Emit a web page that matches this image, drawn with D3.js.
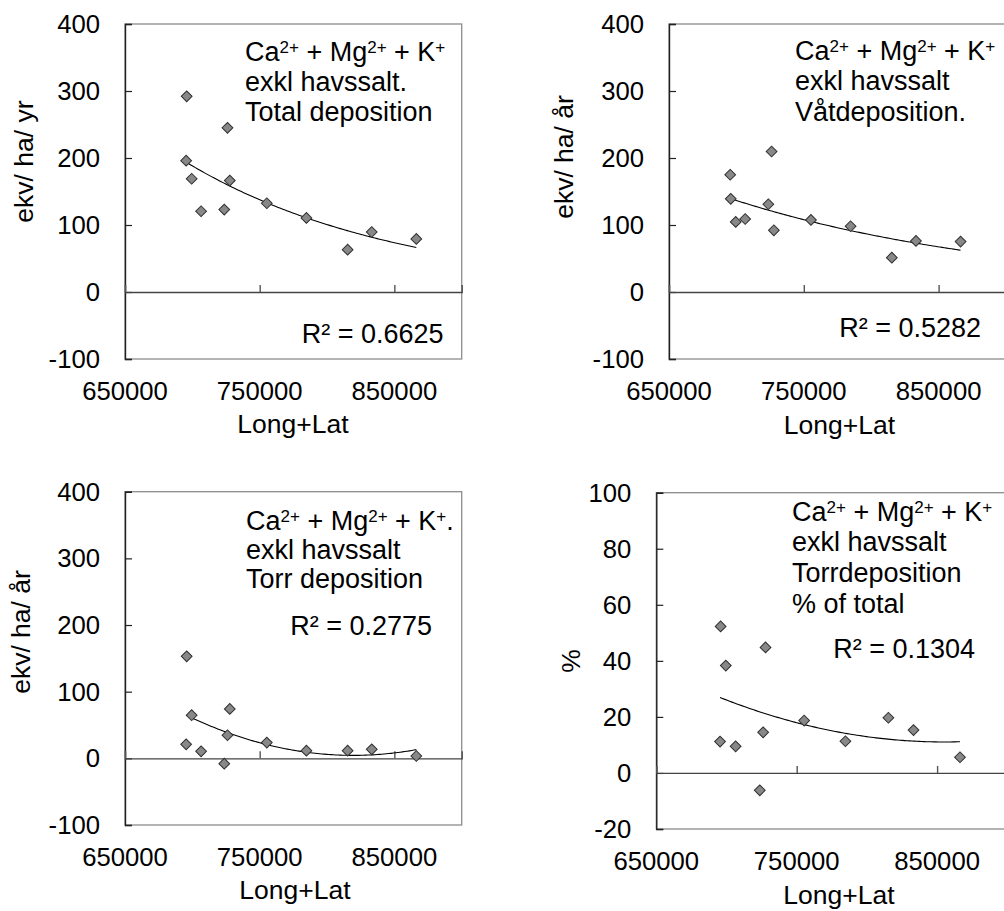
<!DOCTYPE html>
<html>
<head>
<meta charset="utf-8">
<script src="https://cdn.jsdelivr.net/npm/d3@7"></script>
<style>
  body { margin: 0; background: #fff; }
  svg { display: block; }
  text { font-family: "Liberation Sans", Arial, sans-serif; fill: #000; }
</style>
</head>
<body>
<svg id="chart" width="1004" height="911"></svg>
<script>
// Station position (longitude + latitude) and base-cation deposition (ekv/ha/år)
const longLat  = [695800, 695400, 699500, 706500, 723700, 726100, 727800, 755300, 784700, 815300, 833200, 866300];
const totalDep = [292, 196, 169, 120.5, 123, 245, 166.3, 132.5, 110.6, 63.2, 89.6, 79.2];
const wetDep   = [139, 175, 104.6, 109, 131, 209.7, 92.1, 107.6, 98.1, 51.3, 76.2, 75.2];
const dryDep   = [153, 21, 64.7, 10.5, -8, 34.6, 74.2, 23.6, 11.5, 11.5, 13.5, 3.5];
const dryPct   = [52.3, 11.2, 38.3, 9.5, -6.2, 14.5, 44.8, 18.7, 11.3, 19.7, 15.3, 5.6];

const xTicks   = [650000, 750000, 850000];
const depTicks = [-100, 0, 100, 200, 300, 400];
const pctTicks = [-20, 0, 20, 40, 60, 80, 100];

const yTitles  = ["ekv/ ha/ yr", "ekv/ ha/ år", "ekv/ ha/ år", "%"];
const r2Labels = ["R² = 0.6625", "R² = 0.5282", "R² = 0.2775", "R² = 0.1304"];
const trendTypes = ["exp", "exp", "poly2", "poly2"];

// First annotation line: ion formula with superscript charges
const ionLine = [["Ca"], ["2+", true], [" + Mg"], ["2+", true], [" + K"], ["+", true]];
const ionLineDot = ionLine.concat([["."]]);
const noteLines = [
  [ionLine, "exkl havssalt.", "Total deposition"],
  [ionLine, "exkl havssalt", "Våtdeposition."],
  [ionLineDot, "exkl havssalt", "Torr deposition"],
  [ionLine, "exkl havssalt", "Torrdeposition", "% of total"]
];

const seriesList = [totalDep, wetDep, dryDep, dryPct];
const yDomains = [[-100, 400], [-100, 400], [-100, 400], [-20, 100]];
const yTickSets = [depTicks, depTicks, depTicks, pctTicks];

// Panel geometry
const panels = [
  { left: 125,   top: 24,    width: 336.7, height: 335,
    yTitle: [33, 161.5], xTitle: [293, 433], note: [245, 60.5, 30], r2: [443.5, 342.5] },
  { left: 669,   top: 24,    width: 337,   height: 335,
    yTitle: [573, 157], xTitle: [839.5, 434], note: [795, 59.5, 30.5], r2: [981, 336.5] },
  { left: 125,   top: 491.7, width: 336.7, height: 333.3,
    yTitle: [29.5, 632], xTitle: [295, 899], note: [246, 530, 29], r2: [432, 635] },
  { left: 656.3, top: 492.7, width: 351,   height: 336.3,
    yTitle: [580, 661], xTitle: [839, 904], note: [792, 520.5, 30.7], r2: [975, 658] }
];

// Least-squares second-order polynomial trend
function quadFit(xs, ys) {
  const x0 = d3.mean(xs), s = 100000;
  const t = xs.map(x => (x - x0) / s);
  const S = [0, 0, 0, 0, 0], T = [0, 0, 0];
  t.forEach((ti, i) => {
    let p = 1;
    for (let k = 0; k < 5; k++) { S[k] += p; p *= ti; }
    T[0] += ys[i]; T[1] += ys[i] * ti; T[2] += ys[i] * ti * ti;
  });
  const A = [[S[0], S[1], S[2]], [S[1], S[2], S[3]], [S[2], S[3], S[4]]];
  const det = m => m[0][0] * (m[1][1] * m[2][2] - m[1][2] * m[2][1])
                 - m[0][1] * (m[1][0] * m[2][2] - m[1][2] * m[2][0])
                 + m[0][2] * (m[1][0] * m[2][1] - m[1][1] * m[2][0]);
  const D = det(A);
  const c = [0, 1, 2].map(j => det(A.map((row, r) => row.map((v, k) => (k === j ? T[r] : v)))) / D);
  return x => { const u = (x - x0) / s; return c[0] + c[1] * u + c[2] * u * u; };
}

// Exponential trend: linear regression of ln(y) on x
function expFit(xs, ys) {
  const ly = ys.map(Math.log);
  const mx = d3.mean(xs), my = d3.mean(ly);
  let sxy = 0, sxx = 0;
  xs.forEach((x, i) => { sxy += (x - mx) * (ly[i] - my); sxx += (x - mx) * (x - mx); });
  const b = sxy / sxx, a = my - b * mx;
  return x => Math.exp(a + b * x);
}

const svg = d3.select("#chart");
const FONT_TICK = 25.7, FONT_TITLE = 26.5, FONT_NOTE = 27, FONT_SUP = 17;

panels.forEach((p, i) => {
  const ys = seriesList[i];
  const x = d3.scaleLinear().domain([650000, 900000]).range([p.left, p.left + p.width]);
  const y = d3.scaleLinear().domain(yDomains[i]).range([p.top + p.height, p.top]);
  const g = svg.append("g");

  // Plot-area frame
  g.append("rect")
    .attr("x", p.left).attr("y", p.top)
    .attr("width", p.width).attr("height", p.height)
    .attr("fill", "none").attr("stroke", "#8c8c8c").attr("stroke-width", 1.3);

  // Vertical axis with inward ticks
  const yAxis = d3.axisRight(y).tickValues(yTickSets[i]).tickSize(7).tickFormat("");
  const ya = g.append("g").attr("transform", `translate(${p.left},0)`).call(yAxis);
  ya.select(".domain").attr("stroke", "#222").attr("stroke-width", 1.4);
  ya.selectAll(".tick line").attr("stroke", "#222").attr("stroke-width", 1.2);

  g.append("g").selectAll("text").data(yTickSets[i]).join("text")
    .attr("x", p.left - 25).attr("y", d => y(d)).attr("dy", "0.35em")
    .attr("text-anchor", "end").style("font-size", FONT_TICK + "px")
    .text(d => d);

  // Horizontal axis crossing at zero, ticks pointing up
  const xAxis = d3.axisTop(x).tickValues(xTicks).tickSize(7).tickFormat("");
  const xa = g.append("g").attr("transform", `translate(0,${y(0)})`).call(xAxis);
  xa.select(".domain").attr("stroke", "#444").attr("stroke-width", 1.3);
  xa.selectAll(".tick line").attr("stroke", "#555").attr("stroke-width", 1.4);

  g.append("g").selectAll("text").data(xTicks).join("text")
    .attr("x", d => x(d)).attr("y", p.top + p.height + 41)
    .attr("text-anchor", "middle").style("font-size", FONT_TICK + "px")
    .text(d => d);

  // Axis titles
  g.append("text")
    .attr("transform", `translate(${p.yTitle[0]},${p.yTitle[1]}) rotate(-90)`)
    .attr("text-anchor", "middle").style("font-size", FONT_TITLE + "px")
    .text(yTitles[i]);
  g.append("text")
    .attr("x", p.xTitle[0]).attr("y", p.xTitle[1])
    .attr("text-anchor", "middle").style("font-size", FONT_TITLE + "px")
    .text("Long+Lat");

  // Trend line
  const fit = trendTypes[i] === "exp" ? expFit(longLat, ys) : quadFit(longLat, ys);
  const [xmin, xmax] = d3.extent(longLat);
  const samples = d3.range(0, 101).map(k => xmin + (xmax - xmin) * k / 100);
  g.append("path")
    .datum(samples)
    .attr("fill", "none").attr("stroke", "#000").attr("stroke-width", 1.1)
    .attr("d", d3.line().x(d => x(d)).y(d => y(fit(d))));

  // Station markers (diamonds)
  const diamond = d3.symbol().type(d3.symbolSquare).size(58);
  g.append("g").selectAll("path").data(longLat.map((lx, k) => [lx, ys[k]])).join("path")
    .attr("transform", d => `translate(${x(d[0])},${y(d[1])}) rotate(45)`)
    .attr("d", diamond)
    .attr("fill", "#888888").attr("stroke", "#303030").attr("stroke-width", 1);

  // Annotation block
  const [nx, ny, step] = p.note;
  noteLines[i].forEach((line, li) => {
    const t = g.append("text").attr("x", nx).attr("y", ny + li * step)
      .style("font-size", FONT_NOTE + "px");
    if (typeof line === "string") {
      t.text(line);
    } else {
      let raised = false;
      line.forEach(([str, sup]) => {
        const ts = t.append("tspan").text(str);
        if (sup && !raised) { ts.attr("dy", -8).style("font-size", FONT_SUP + "px"); raised = true; }
        else if (sup) { ts.style("font-size", FONT_SUP + "px"); }
        else if (raised) { ts.attr("dy", 8); raised = false; }
      });
    }
  });

  g.append("text")
    .attr("x", p.r2[0]).attr("y", p.r2[1])
    .attr("text-anchor", "end").style("font-size", FONT_NOTE + "px")
    .text(r2Labels[i]);
});
</script>
</body>
</html>
